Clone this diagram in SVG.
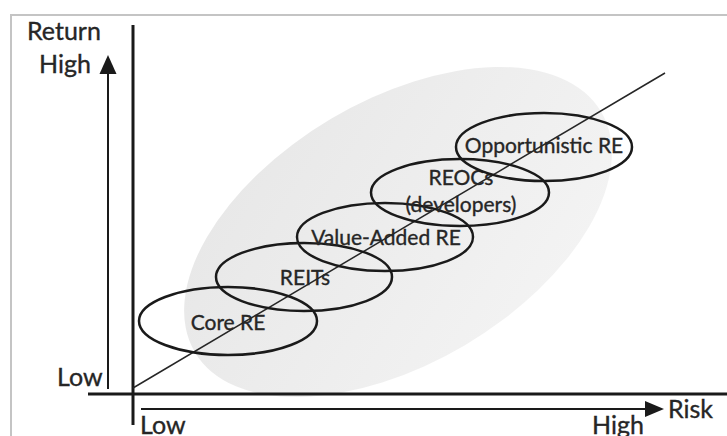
<svg xmlns="http://www.w3.org/2000/svg" width="727" height="436" viewBox="0 0 727 436">
<style>
.ax{stroke:#1a1a1a;stroke-width:3;fill:none}
.ar{stroke:#1a1a1a;stroke-width:2;fill:none}
.el{stroke:#1a1a1a;stroke-width:2.5;fill:none}
.t{font-family:Lato,"Open Sans","Liberation Sans",sans-serif;fill:#262626;stroke:#262626;stroke-width:0.35}
.n{font-size:21px;text-anchor:middle}
.a{font-size:25px}
</style>
<defs>
<linearGradient id="g" x1="0" y1="0" x2="1" y2="1">
<stop offset="0" stop-color="#e6e6e6"/>
<stop offset="1" stop-color="#f5f5f5"/>
</linearGradient>
</defs>
<rect width="727" height="436" fill="#fff"/>
<path d="M11,436 V15 H727" stroke="#c4c4c4" stroke-width="2" fill="none"/>
<g id="cloud">
<ellipse cx="398" cy="232" rx="236" ry="131.5" transform="rotate(-30.6 398 232)" fill="url(#g)"/>
</g>
<g id="axes">
<line class="ax" x1="133" y1="25" x2="133" y2="425"/>
<line class="ax" x1="88" y1="394" x2="727" y2="394"/>
<line class="ar" x1="108" y1="389" x2="108" y2="74"/>
<path d="M108,55 L99.5,74 L116.5,74 Z" fill="#1a1a1a"/>
<line class="ar" x1="141" y1="409" x2="646" y2="409"/>
<path d="M664,409 L645,401 L645,417 Z" fill="#1a1a1a"/>
</g>
<g id="connectors">
<line x1="133" y1="388" x2="665" y2="73" stroke="#262626" stroke-width="1.5"/>
</g>
<g id="core">
<ellipse class="el" cx="228" cy="321" rx="89" ry="34"/>
<text class="t n" x="228" y="330">Core RE</text>
</g>
<g id="reits">
<ellipse class="el" cx="304" cy="277" rx="88" ry="34"/>
<text class="t n" x="305" y="285">REITs</text>
</g>
<g id="value">
<ellipse class="el" cx="385" cy="237" rx="88" ry="34"/>
<text class="t n" x="386" y="245">Value-Added RE</text>
</g>
<g id="reocs">
<ellipse class="el" cx="460" cy="192.5" rx="89" ry="33.5"/>
<text class="t n" x="461" y="185">REOCs</text>
<text class="t n" x="461" y="212">(developers)</text>
</g>
<g id="opp">
<ellipse class="el" cx="544" cy="147" rx="88" ry="34"/>
<text class="t n" x="544" y="153">Opportunistic RE</text>
</g>
<g id="labels">
<text class="t a" x="27" y="40">Return</text>
<text class="t a" x="39" y="73">High</text>
<text class="t a" x="57" y="386">Low</text>
<text class="t a" x="140" y="434">Low</text>
<text class="t a" x="592" y="434">High</text>
<text class="t a" x="668" y="418">Risk</text>
</g>
</svg>
